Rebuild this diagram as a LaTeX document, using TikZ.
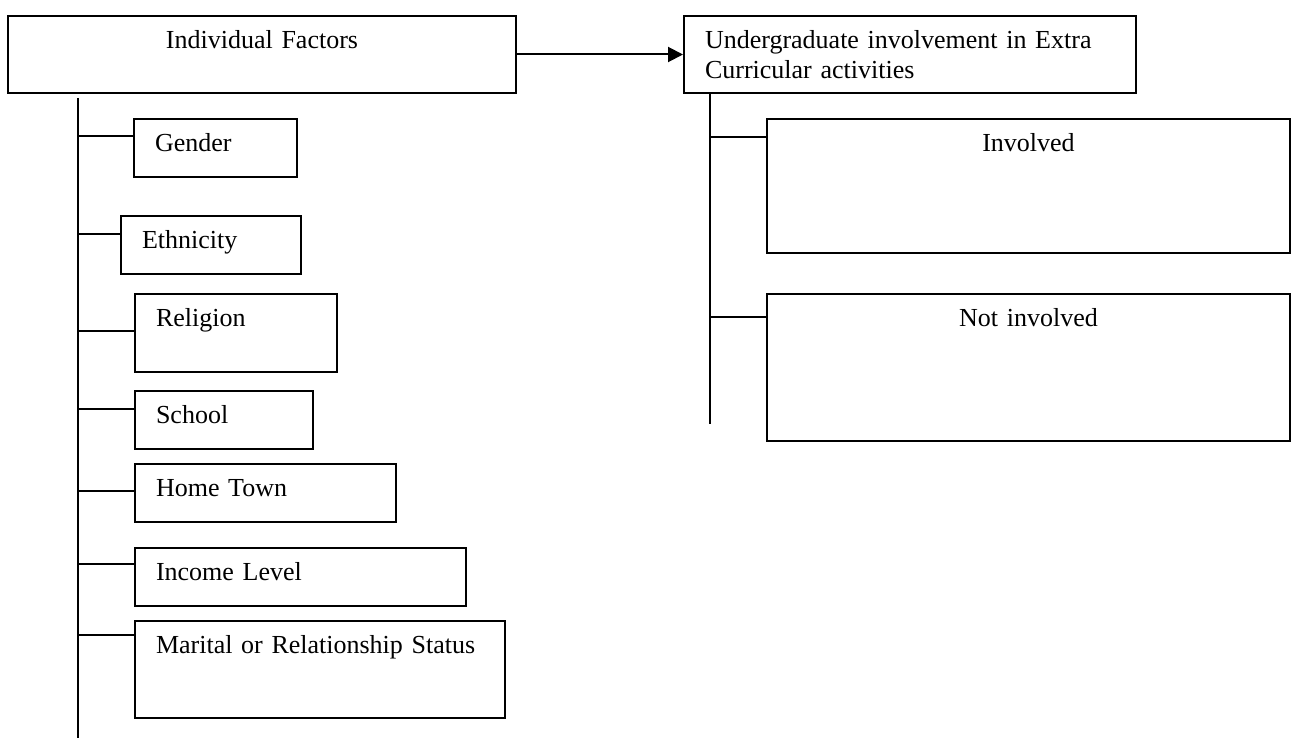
\documentclass[tikz,border=0pt]{standalone}
\usepackage{fontspec}
\setmainfont{Liberation Serif}
\usepackage{tikz}
\usetikzlibrary{arrows.meta}

\begin{document}
\begin{tikzpicture}[x=0.5pt, y=-0.5pt, line width=1pt,
  every node/.style={font=\fontsize{13pt}{15pt}\selectfont},
  box/.style={rectangle, draw, anchor=north west, inner xsep=10.5pt, inner ysep=0pt, text height=16.25pt, align=left}]
\useasboundingbox (0,0) rectangle (1296,738);

\node[box, align=center, text width=233pt, text depth=22.25pt] (indiv) at (7,15) {Individual Factors};
\node[box, text width=205pt, text depth=22.25pt] (ugrad) at (683,15) {Undergraduate involvement in Extra\\Curricular activities};

\node[box, text width=60.5pt, text depth=12.75pt] (gender) at (133,118) {Gender};
\node[box, text width=69pt, text depth=12.75pt] (ethnic) at (120,215) {Ethnicity};
\node[box, text width=80pt, text depth=22.75pt] (relig) at (134,293) {Religion};
\node[box, text width=68pt, text depth=12.75pt] (school) at (134,390) {School};
\node[box, text width=109.5pt, text depth=12.75pt] (home) at (134,463) {Home Town};
\node[box, text width=144.5pt, text depth=12.75pt] (income) at (134,547) {Income Level};
\node[box, text width=164pt, text depth=32.25pt] (marital) at (134,620) {Marital or Relationship Status};

\node[box, align=center, text width=240.5pt, text depth=50.75pt] (involved) at (766,118) {Involved};
\node[box, align=center, text width=240.5pt, text depth=57.25pt] (notinv) at (766,293) {Not involved};

\draw[-{Triangle[length=7.5pt,width=7.5pt]}] (indiv) -- (ugrad);

% left tree
\coordinate (ltop) at (78,98);
\coordinate (lbot) at (78,738);
\draw (ltop) -- (lbot);
\draw (ltop |- 0,136) -- (gender.west |- 0,136);
\draw (ltop |- 0,234) -- (ethnic.west |- 0,234);
\draw (ltop |- 0,331) -- (relig.west |- 0,331);
\draw (ltop |- 0,409) -- (school.west |- 0,409);
\draw (ltop |- 0,491) -- (home.west |- 0,491);
\draw (ltop |- 0,564) -- (income.west |- 0,564);
\draw (ltop |- 0,635) -- (marital.west |- 0,635);

% right tree
\coordinate (rbot) at (710,424);
\draw (ugrad.south -| rbot) -- (rbot);
\draw (rbot |- 0,137) -- (involved.west |- 0,137);
\draw (rbot |- 0,317) -- (notinv.west |- 0,317);
\end{tikzpicture}
\end{document}
